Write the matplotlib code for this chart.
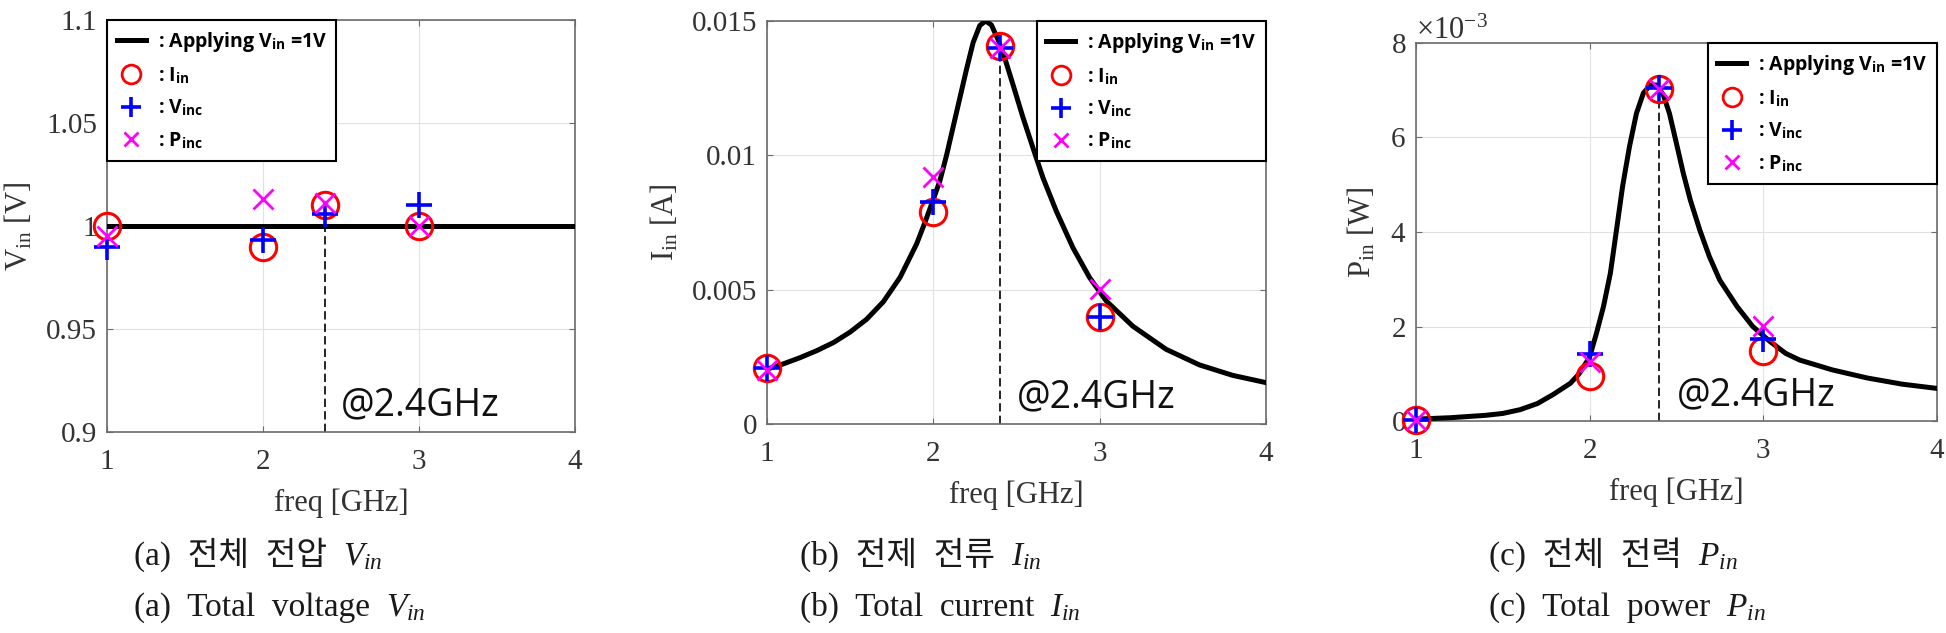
import numpy as np
import matplotlib.pyplot as plt
from matplotlib.lines import Line2D

plt.rcParams['font.family'] = ['Liberation Serif', 'Noto Sans CJK KR']
plt.rcParams['mathtext.fontset'] = 'custom'
plt.rcParams['mathtext.rm'] = 'Liberation Serif'
plt.rcParams['mathtext.it'] = 'Liberation Serif:italic'
plt.rcParams['mathtext.bf'] = 'Open Sans:bold'
plt.rcParams['mathtext.sf'] = 'Open Sans'

# ---- values ----
f_mark = [1, 2, 2.4, 3]
f_res = 2.4

# (a) total voltage
f_v = [1, 4]
v_line = [1.0, 1.0]
v_iin = [1.000, 0.990, 1.010, 1.000]
v_vinc = [0.990, 0.993, 1.006, 1.010]
v_pinc = [0.995, 1.013, 1.011, 1.000]

# (b) total current
f_i = [1.0, 1.1, 1.2, 1.3, 1.4, 1.5, 1.6, 1.7, 1.8, 1.9, 1.95, 2.0, 2.04,
       2.08, 2.14, 2.2, 2.24, 2.28, 2.315, 2.35, 2.39, 2.43, 2.48, 2.54, 2.6,
       2.66, 2.74, 2.84, 2.94, 3.04, 3.2, 3.4, 3.6, 3.8, 4.0]
i_line = [0.00204, 0.00224, 0.00247, 0.00273, 0.00303, 0.00342, 0.00390,
          0.00455, 0.00545, 0.00670, 0.00750, 0.00835, 0.00905, 0.01000,
          0.01160, 0.01320, 0.01420, 0.01483, 0.01500, 0.01485, 0.01430,
          0.01362, 0.01262, 0.01140, 0.01027, 0.00916, 0.00792, 0.00656,
          0.00545, 0.00458, 0.00364, 0.00278, 0.00220, 0.00181, 0.00154]
i_iin = [0.0021, 0.0079, 0.01405, 0.0040]
i_vinc = [0.0021, 0.00827, 0.0140, 0.0040]
i_pinc = [0.0020, 0.0092, 0.0140, 0.00504]

# (c) total power
f_p = [1.0, 1.2, 1.4, 1.5, 1.6, 1.7, 1.79, 1.89, 1.94, 2.0, 2.04, 2.08, 2.12,
       2.155, 2.19, 2.23, 2.27, 2.31, 2.35, 2.385, 2.425, 2.46, 2.5, 2.54,
       2.58, 2.635, 2.69, 2.75, 2.85, 2.94, 3.04, 3.13, 3.21, 3.4, 3.6, 3.8,
       4.0]
p_line = [0.00004, 0.00007, 0.00012, 0.00016, 0.00024, 0.00037, 0.00056,
          0.00080, 0.00100, 0.00135, 0.00186, 0.00242, 0.00313, 0.00404,
          0.00496, 0.00581, 0.00651, 0.00694, 0.00711, 0.00711, 0.00690,
          0.00651, 0.00588, 0.00524, 0.00468, 0.00404, 0.00348, 0.00298,
          0.00242, 0.00200, 0.00168, 0.00143, 0.00129, 0.00108, 0.00091,
          0.00078, 0.00069]
p_iin = [0.00003, 0.00095, 0.00703, 0.00148]
p_vinc = [0.00003, 0.00141, 0.00705, 0.00173]
p_pinc = [0.00003, 0.00124, 0.00703, 0.00201]

res_top = [1.0, 0.0139, 0.0070]

leg_labels = [r': Applying V$_{\mathbf{in}}$ =1V', r': I$_{\mathbf{in}}$',
              r': V$_{\mathbf{inc}}$', r': P$_{\mathbf{inc}}$']
captions_ko = ['(a)  전체  전압', '(b)  전제  전류', '(c)  전체  전력']
captions_en = ['(a)  Total  voltage', '(b)  Total  current', '(c)  Total  power']
captions_sym = [r'$V_{in}$', r'$I_{in}$', r'$P_{in}$']


def draw_panel(ax, f_line, y_line, y_iin, y_vinc, y_pinc, top, leg_loc):
    ax.plot(f_line, y_line, color='black', lw=3.6, zorder=3)
    ax.plot([f_res, f_res], [ax.get_ylim()[0], top], color='black', lw=1.2,
            linestyle=(0, (5, 2.5)), zorder=2)
    ax.plot(f_mark, y_iin, 'o', mfc='none', mec='red', ms=19, mew=2.2, zorder=4, clip_on=False)
    ax.plot(f_mark, y_vinc, '+', color='blue', ms=19, mew=2.6, zorder=5, clip_on=False)
    ax.plot(f_mark, y_pinc, 'x', color='magenta', ms=14, mew=2, zorder=6, clip_on=False)
    ax.set_xlim(1, 4)
    ax.set_xticks([1, 2, 3, 4])
    ax.grid(True, color='#e2e2e2', lw=0.8)
    ax.set_axisbelow(True)
    ax.tick_params(direction='in', top=True, right=True, length=4, width=0.8,
                   colors='#6b6b6b', labelcolor='#333333', labelsize=21)
    ax.tick_params(axis='x', pad=12)
    ax.tick_params(axis='y', pad=7)
    for s in ax.spines.values():
        s.set_color('#6b6b6b')
        s.set_linewidth(1.2)
    ax.set_xlabel('freq [GHz]', fontsize=22, color='#333333', labelpad=10)
    ax.text(0.5, 0.04, '@2.4GHz', transform=ax.transAxes, family='Open Sans',
            fontsize=27, color='#111111', va='baseline', zorder=7)
    handles = [Line2D([], [], color='black', lw=3.6),
               Line2D([], [], marker='o', ls='none', mfc='none', mec='red', ms=18, mew=2),
               Line2D([], [], marker='+', ls='none', color='blue', ms=19, mew=2.6),
               Line2D([], [], marker='x', ls='none', color='magenta', ms=14, mew=2)]
    leg = ax.legend(handles, leg_labels, loc=leg_loc, borderaxespad=0,
                    fancybox=False, edgecolor='black', framealpha=1,
                    prop={'family': 'Open Sans', 'weight': 'bold', 'size': 14},
                    handlelength=1.5, handletextpad=0.6, labelspacing=0.6,
                    borderpad=0.5, markerscale=0.75)
    leg.get_frame().set_linewidth(1.5)
    leg.set_zorder(10)


fig = plt.figure(figsize=(19.46, 6.33), dpi=100)

ax1 = fig.add_axes([0.0550, 0.3175, 0.2405, 0.6509])
ax1.set_ylim(0.9, 1.1)
ax1.set_yticks([0.9, 0.95, 1.0, 1.05, 1.1], labels=['0.9', '0.95', '1', '1.05', '1.1'])
draw_panel(ax1, f_v, v_line, v_iin, v_vinc, v_pinc, res_top[0], 'upper left')
ax1.set_ylabel(r'V$_{\mathrm{in}}$ [V]', fontsize=22, color='#333333')
ax1.yaxis.set_label_coords(-0.154, 0.5)

ax2 = fig.add_axes([0.3941, 0.3302, 0.2564, 0.6367])
ax2.set_ylim(0, 0.015)
ax2.set_yticks([0, 0.005, 0.01, 0.015], labels=['0', '0.005', '0.01', '0.015'])
draw_panel(ax2, f_i, i_line, i_iin, i_vinc, i_pinc, res_top[1], 'upper right')
ax2.set_ylabel(r'I$_{\mathrm{in}}$ [A]', fontsize=22, color='#333333')
ax2.yaxis.set_label_coords(-0.174, 0.5)

ax3 = fig.add_axes([0.7276, 0.3349, 0.2677, 0.5972])
ax3.set_ylim(0, 0.008)
ax3.set_yticks([0, 0.002, 0.004, 0.006, 0.008])
ax3.ticklabel_format(axis='y', style='sci', scilimits=(-3, -3), useMathText=True)
draw_panel(ax3, f_p, p_line, p_iin, p_vinc, p_pinc, res_top[2], 'upper right')
ax3.yaxis.get_offset_text().set_fontsize(22)
ax3.yaxis.get_offset_text().set_color('#333333')
ax3.set_ylabel(r'P$_{\mathrm{in}}$ [W]', fontsize=22, color='#333333')
ax3.yaxis.set_label_coords(-0.073, 0.5)

# captions: plain text first, then the italic symbol right after it
fig.canvas.draw()
renderer = fig.canvas.get_renderer()
W = fig.bbox.width
cap_x = [134 / 1946, 800 / 1946, 1489 / 1946]
cap_y = [1 - 565 / 633, 1 - 616 / 633]
for i in range(3):
    for row, txt in enumerate([captions_ko[i], captions_en[i]]):
        t = fig.text(cap_x[i], cap_y[row], txt, fontsize=24, va='baseline',
                     color='#1a1a1a')
        bb = t.get_window_extent(renderer)
        fig.text((bb.x1 + 16) / W, cap_y[row], captions_sym[i], fontsize=24,
                 va='baseline', color='#1a1a1a')

fig.savefig('out.png', dpi=100)
